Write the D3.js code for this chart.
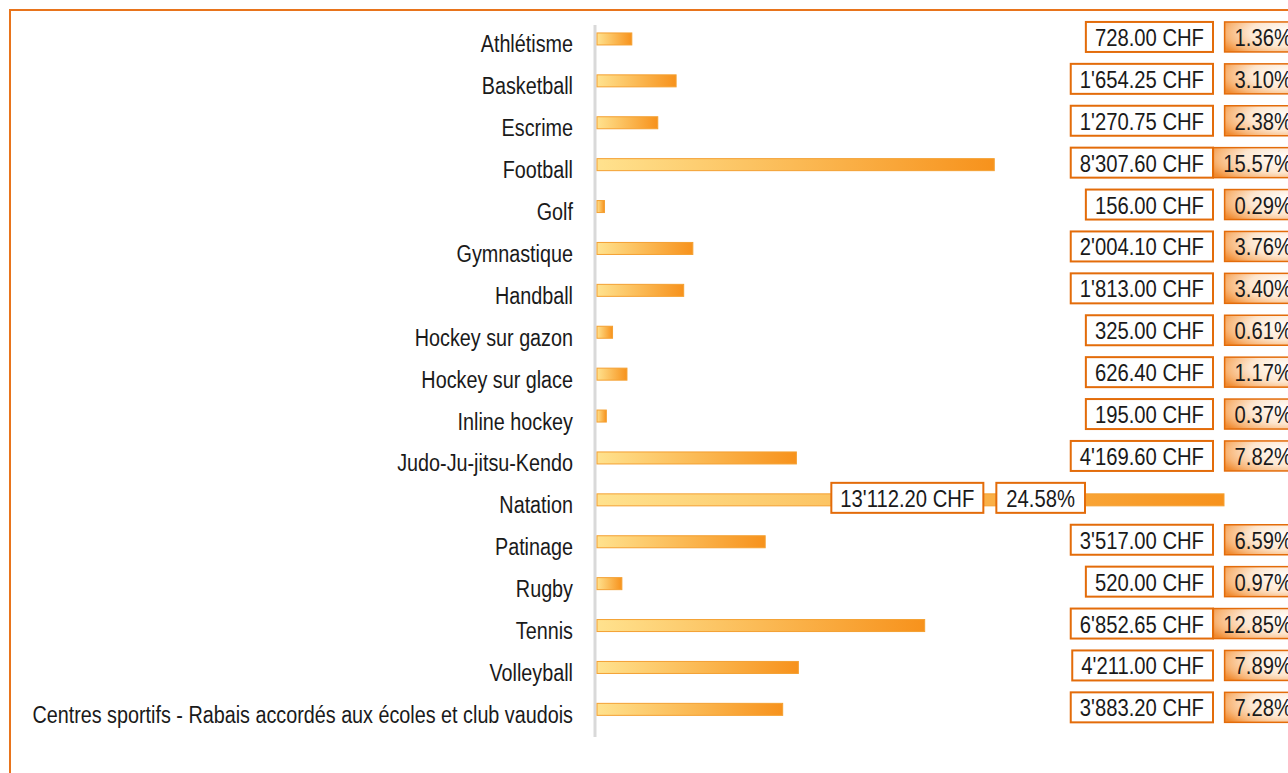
<!DOCTYPE html>
<html>
<head>
<meta charset="utf-8">
<script src="https://cdn.jsdelivr.net/npm/d3@7"></script>
<style>
  html, body { margin: 0; padding: 0; background: #ffffff; }
  svg { display: block; }
  text { font-family: "Liberation Sans", Arial, sans-serif; fill: #1a1a1a; }
</style>
</head>
<body>
<svg id="chart" width="1288" height="773"></svg>
<script>
// ---- data ----
const categories = [
  "Athlétisme", "Basketball", "Escrime", "Football", "Golf", "Gymnastique",
  "Handball", "Hockey sur gazon", "Hockey sur glace", "Inline hockey",
  "Judo-Ju-jitsu-Kendo", "Natation", "Patinage", "Rugby", "Tennis",
  "Volleyball", "Centres sportifs - Rabais accordés aux écoles et club vaudois"
];
const amounts = [
  728.00, 1654.25, 1270.75, 8307.60, 156.00, 2004.10,
  1813.00, 325.00, 626.40, 195.00,
  4169.60, 13112.20, 3517.00, 520.00, 6852.65,
  4211.00, 3883.20
];
const percents = [
  1.36, 3.10, 2.38, 15.57, 0.29, 3.76,
  3.40, 0.61, 1.17, 0.37,
  7.82, 24.58, 6.59, 0.97, 12.85,
  7.89, 7.28
];

// ---- setup ----
const W = 1288, H = 773;
const svg = d3.select("#chart");
const defs = svg.append("defs");

const barGrad = defs.append("linearGradient").attr("id", "barGrad")
  .attr("x1", "0%").attr("x2", "100%").attr("y1", "0%").attr("y2", "0%");
barGrad.append("stop").attr("offset", "0%").attr("stop-color", "#ffe28e");
barGrad.append("stop").attr("offset", "100%").attr("stop-color", "#f7921c");

const pctGrad = defs.append("radialGradient").attr("id", "pctGrad")
  .attr("cx", "80%").attr("cy", "35%").attr("r", "95%");
pctGrad.append("stop").attr("offset", "0%").attr("stop-color", "#ffffff");
pctGrad.append("stop").attr("offset", "50%").attr("stop-color", "#fde6cf");
pctGrad.append("stop").attr("offset", "80%").attr("stop-color", "#f8b77a");
pctGrad.append("stop").attr("offset", "100%").attr("stop-color", "#f08a30");

// outer frame
svg.append("rect").attr("x", 10).attr("y", 10)
  .attr("width", W + 20).attr("height", H + 20)
  .attr("fill", "none").attr("stroke", "#e8741c").attr("stroke-width", 2);

const x0 = 597;
const x = d3.scaleLinear().domain([0, 13112.2]).range([x0, 1224]);
const y = d3.scaleBand().domain(categories).range([18, 730.3]).padding(0);

const locale = d3.formatLocale({ decimal: ".", thousands: "'", grouping: [3], currency: ["", " CHF"] });
const fmtAmt = v => locale.format(",.2f")(v) + " CHF";
const fmtPct = v => v.toFixed(2) + "%";

const FS = 23;          // font size
const SX = 0.88;        // horizontal condensation (data labels)
const SXL = 0.86;       // horizontal condensation (category labels)

// axis line
svg.append("line").attr("x1", 595).attr("x2", 595)
  .attr("y1", 25).attr("y2", 737)
  .attr("stroke", "#d9d9d9").attr("stroke-width", 3);

// category labels
svg.append("g").selectAll("text").data(categories).join("text")
  .attr("transform", d => `translate(573,${y(d) + y.bandwidth() / 2 + 13.5}) scale(${SXL},1)`)
  .attr("text-anchor", "end")
  .attr("font-size", FS)
  .text(d => d);

// bars
const rows = categories.map((c, i) => ({ c, v: amounts[i], p: percents[i] }));
svg.append("g").selectAll("rect").data(rows).join("rect")
  .attr("x", x0)
  .attr("y", d => y(d.c) + y.bandwidth() / 2 - 6)
  .attr("width", d => x(d.v) - x0)
  .attr("height", 12)
  .attr("fill", "url(#barGrad)")
  .attr("stroke", "#f4a032").attr("stroke-width", 1);

// labels
const lab = svg.append("g");
const colRight = 1213;
rows.forEach(d => {
  const cy = y(d.c) + y.bandwidth() / 2 - 2;
  const bh = 30;
  const tv = lab.append("text").attr("font-size", FS).text(fmtAmt(d.v));
  const wv = tv.node().getComputedTextLength() * SX;
  const tp = lab.append("text").attr("font-size", FS).text(fmtPct(d.p));
  const wp = tp.node().getComputedTextLength() * SX;
  const vBoxW = wv + 18, pBoxW = wp + 20;

  let vRight, pRight;
  const barEnd = x(d.v);
  const inside = barEnd > colRight - vBoxW;
  if (inside) {
    pRight = barEnd - 139;
    vRight = pRight - pBoxW - 13;
  } else {
    vRight = colRight;
    pRight = colRight + 89;
  }
  const vLeft = vRight - vBoxW, pLeft = pRight - pBoxW;

  lab.insert("rect", () => tv.node()).attr("x", vLeft).attr("y", cy - bh / 2)
    .attr("width", vBoxW).attr("height", bh)
    .attr("fill", "#ffffff").attr("stroke", "#e36c0a").attr("stroke-width", 2);
  tv.attr("transform", `translate(${vLeft + vBoxW / 2},${cy + 9}) scale(${SX},1)`)
    .attr("text-anchor", "middle");

  lab.insert("rect", () => tp.node()).attr("x", pLeft).attr("y", cy - bh / 2)
    .attr("width", pBoxW).attr("height", bh)
    .attr("fill", inside ? "#ffffff" : "url(#pctGrad)")
    .attr("stroke", "#e36c0a").attr("stroke-width", inside ? 2 : 1.5);
  tp.attr("transform", `translate(${pLeft + pBoxW / 2},${cy + 9}) scale(${SX},1)`)
    .attr("text-anchor", "middle");
});
</script>
</body>
</html>
